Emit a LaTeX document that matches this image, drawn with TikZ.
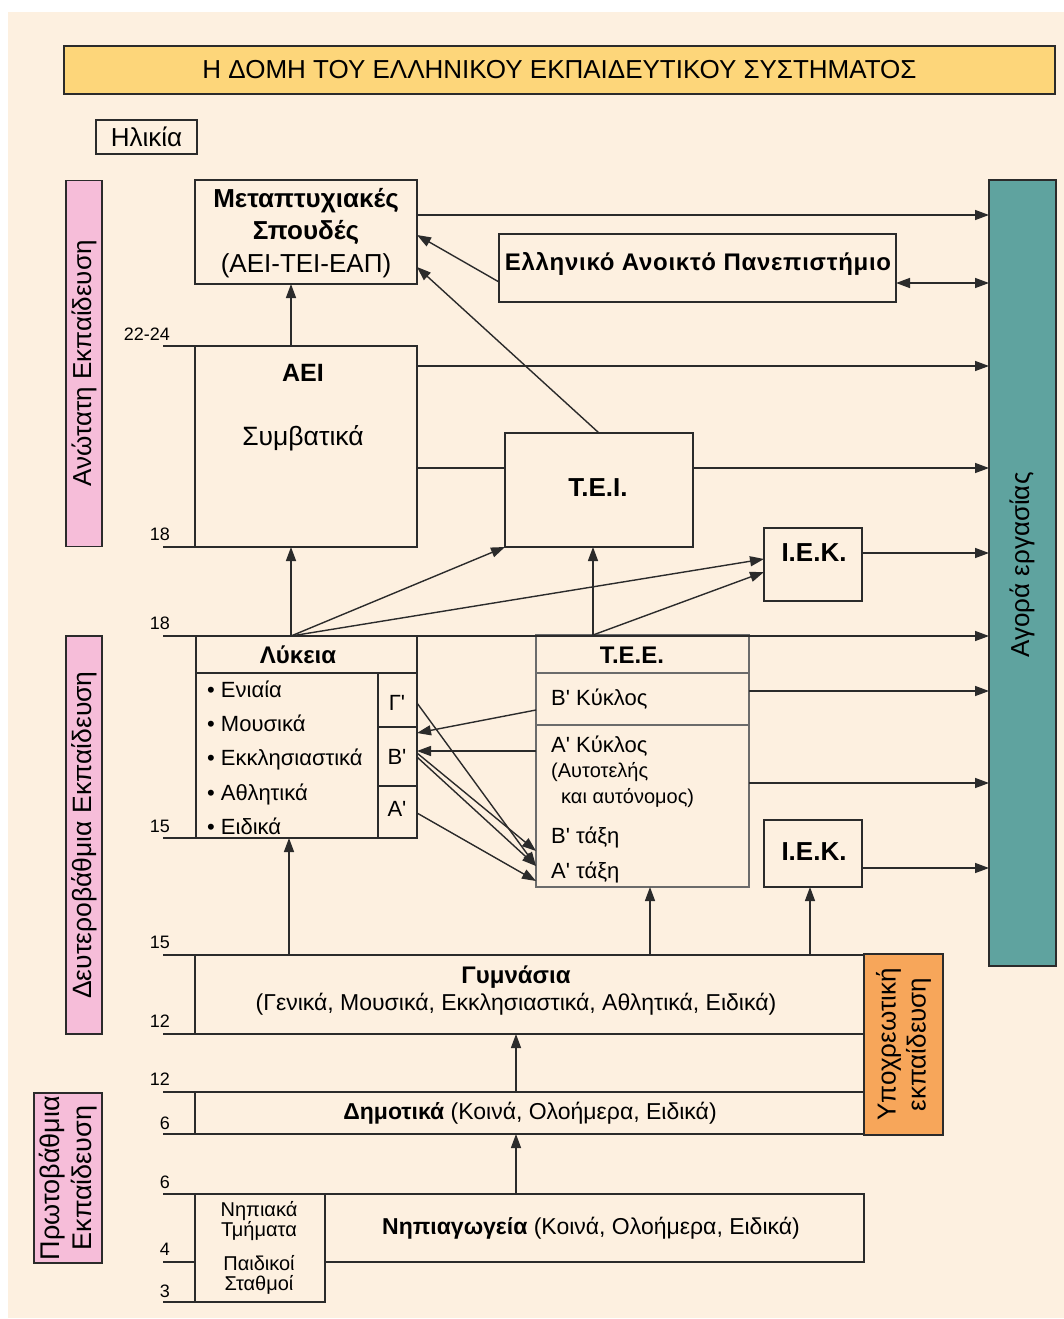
\documentclass[tikz,border=0pt]{standalone}
\usepackage{fontspec}
\setmainfont{Liberation Sans}
\usetikzlibrary{arrows.meta}
\definecolor{bgc}{HTML}{FDF0E0}
\definecolor{titlefill}{HTML}{FDD67A}
\definecolor{pinkfill}{HTML}{F6BDD9}
\definecolor{tealfill}{HTML}{5FA39F}
\definecolor{orangefill}{HTML}{F7A65A}
\definecolor{lnc}{HTML}{2B2B2B}
\newcommand\fsz[1]{\fontsize{#1}{#1}\selectfont}
\newcommand\prm{\textquotesingle}
\begin{document}
\begin{tikzpicture}[x=1pt,y=-1pt,
  box/.style={draw=lnc, line width=1.5pt, inner sep=0pt, outer sep=0pt},
  conn/.style={draw=lnc, line width=1.4pt},
  arr/.style={conn, -{Triangle[length=14pt,width=10pt]}},
  darr/.style={conn, {Triangle[length=14pt,width=10pt]}-{Triangle[length=14pt,width=10pt]}},
  agelbl/.style={font=\fsz{18}, anchor=base east, inner sep=0pt},
  txt/.style={inner sep=0pt, font=\fsz{24}},
  btxt/.style={inner sep=0pt, font=\fsz{26}\bfseries},
  ltxt/.style={inner sep=0pt, anchor=base west, font=\fsz{22}},
  rot/.style={rotate=90, inner sep=0pt, align=center, font=\fsz{26}}
]
\useasboundingbox (0,0) rectangle (1064,1319);
\fill[white] (0,0) rectangle (1064,1319);
\fill[bgc] (8,12) rectangle (1064,1318);

% title and side bands
\node[box, fill=titlefill, minimum width=991pt, minimum height=48pt, font=\fsz{26}] (title) at (559.5,70) {Η ΔΟΜΗ ΤΟΥ ΕΛΛΗΝΙΚΟΥ ΕΚΠΑΙΔΕΥΤΙΚΟΥ ΣΥΣΤΗΜΑΤΟΣ};
\node[box, minimum width=101pt, minimum height=34pt, font=\fsz{26}] (ilikia) at (146.5,137) {Ηλικία};
\node[box, fill=pinkfill, minimum width=36pt, minimum height=366pt] (pinkA) at (84,363.5) {};
\node[rot] (pinkAt) at (pinkA.center) {Ανώτατη Εκπαίδευση};
\node[box, fill=pinkfill, minimum width=36pt, minimum height=398pt] (pinkB) at (84,835) {};
\node[rot, font=\fsz{26.5}] (pinkBt) at (pinkB.center) {Δευτεροβάθμια Εκπαίδευση};
\node[box, fill=pinkfill, minimum width=68pt, minimum height=170pt] (pinkC) at (68,1178) {};
\node[rot, font=\fontsize{27}{32}\selectfont] (pinkCt) at (pinkC.center) {Πρωτοβάθμια\\Εκπαίδευση};
\node[box, fill=tealfill, minimum width=67pt, minimum height=786pt] (agora) at (1022.5,573) {};
\node[rot] (agorat) at (1022,565) {Αγορά εργασίας};
\node[box, fill=orangefill, minimum width=79pt, minimum height=181pt] (orange) at (903.5,1044.5) {};
\node[rot, font=\fontsize{26}{30}\selectfont] (oranget) at (orange.center) {Υποχρεωτική\\εκπαίδευση};

% main boxes
\node[box, minimum width=222pt, minimum height=104pt] (meta) at (306,232) {};
\node[inner sep=0pt, align=center, font=\fontsize{26}{32.5}\selectfont] (metat) at (306,233) {\textbf{Μεταπτυχιακές}\\\textbf{Σπουδές}\\(ΑΕΙ-ΤΕΙ-ΕΑΠ)};
\node[box, minimum width=222pt, minimum height=201pt] (aei) at (306,446.5) {};
\node[btxt, font=\fsz{25}\bfseries] (aeit) at (303,373) {ΑΕΙ};
\node[txt, font=\fsz{26.5}] (aeisub) at (303,438) {Συμβατικά};
\node[box, minimum width=397pt, minimum height=68pt] (eap) at (697.5,268) {};
\node[btxt, font=\fsz{24}\bfseries\addfontfeature{LetterSpace=3}] (eapt) at (698,264) {Ελληνικό Ανοικτό Πανεπιστήμιο};
\node[box, minimum width=188pt, minimum height=114pt] (tei) at (599,490) {};
\node[btxt] (teit) at (598,488) {Τ.Ε.Ι.};
\node[box, minimum width=98pt, minimum height=73pt] (iekA) at (813,564.5) {};
\node[btxt] (iekAt) at (814,553) {Ι.Ε.Κ.};

% Lykeia
\node[box, minimum width=221pt, minimum height=202pt] (lyk) at (306.5,737) {};
\node[btxt, font=\fsz{24}\bfseries] (lykt) at (298,655) {Λύκεια};
\draw[conn] (196,673) -- (417,673);
\draw[conn] (378,673) -- (378,838);
\draw[conn] (378,727) -- (417,727);
\draw[conn] (378,786) -- (417,786);
\node[ltxt] (l1) at (207,697) {• Ενιαία};
\node[ltxt] (l2) at (207,731) {• Μουσικά};
\node[ltxt] (l3) at (207,765) {• Εκκλησιαστικά};
\node[ltxt] (l4) at (207,800) {• Αθλητικά};
\node[ltxt] (l5) at (207,834) {• Ειδικά};
\node[txt, font=\fsz{22}] (gG) at (397,703) {Γ\prm};
\node[txt, font=\fsz{22}] (gB) at (397,757) {Β\prm};
\node[txt, font=\fsz{22}] (gA) at (397,809) {Α\prm};

% TEE
\node[box, draw=lnc!70, minimum width=213pt, minimum height=252pt] (tee) at (642.5,761) {};
\draw[conn, draw=lnc!70] (536,673) -- (749,673);
\draw[conn, draw=lnc!70] (536,725) -- (749,725);
\node[btxt, font=\fsz{24}\bfseries] (teet) at (632,655) {Τ.Ε.Ε.};
\node[ltxt] (t1) at (551,705) {Β\prm\ Κύκλος};
\node[ltxt] (t2) at (551,752) {Α\prm\ Κύκλος};
\node[ltxt, font=\fsz{20}] (t3) at (551,777) {(Αυτοτελής};
\node[ltxt, font=\fsz{20}] (t4) at (561,803) {και αυτόνομος)};
\node[ltxt] (t5) at (551,843) {Β\prm\ τάξη};
\node[ltxt] (t6) at (551,878) {Α\prm\ τάξη};
\node[box, minimum width=98pt, minimum height=67pt] (iekB) at (813,853.5) {};
\node[btxt] (iekBt) at (814,852) {Ι.Ε.Κ.};

% lower boxes
\node[box, minimum width=669pt, minimum height=79pt] (gym) at (529.5,994.5) {};
\node[btxt, font=\fsz{24}\bfseries] (gymt) at (516,977) {Γυμνάσια};
\node[txt, font=\fsz{23}] (gyms) at (516,1004) {(Γενικά, Μουσικά, Εκκλησιαστικά, Αθλητικά, Ειδικά)};
\node[box, minimum width=669pt, minimum height=42pt] (dim) at (529.5,1113) {};
\node[txt, font=\fsz{23}] (dimt) at (530,1113) {\textbf{Δημοτικά} (Κοινά, Ολοήμερα, Ειδικά)};
\node[box, minimum width=669pt, minimum height=68pt] (nip) at (529.5,1228) {};
\node[txt, font=\fsz{23}] (nipt) at (591,1228) {\textbf{Νηπιαγωγεία} (Κοινά, Ολοήμερα, Ειδικά)};
\node[box, fill=bgc, minimum width=130pt, minimum height=108pt] (nipin) at (260,1248) {};
\node[txt, align=center, font=\fsz{20}] (nipa) at (259,1221) {Νηπιακά\\Τμήματα};
\node[txt, align=center, font=\fsz{20}] (nipb) at (259,1275) {Παιδικοί\\Σταθμοί};

% age lines and labels
\coordinate (a1) at (163,346); \coordinate (a2) at (163,547); \coordinate (a3) at (163,636);
\coordinate (a4) at (163,838); \coordinate (a5) at (163,955); \coordinate (a6) at (163,1034);
\coordinate (a7) at (163,1092); \coordinate (a8) at (163,1134); \coordinate (a9) at (163,1194);
\coordinate (a10) at (163,1262); \coordinate (a11) at (163,1302);
\draw[conn] (a1) -- (aei.north west);
\draw[conn] (a2) -- (aei.south west);
\draw[arr] (a3) -- (agora.west |- a3);
\draw[conn] (a4) -- (lyk.south west);
\draw[conn] (a5) -- (gym.north west);
\draw[conn] (a6) -- (gym.south west);
\draw[conn] (a7) -- (dim.north west);
\draw[conn] (a8) -- (dim.south west);
\draw[conn] (a9) -- (nip.north west);
\draw[conn] (a10) -- (nipin.west |- a10);
\draw[conn] (a11) -- (nipin.south west);
\node[agelbl] (g1) at (170,340) {22-24};
\node[agelbl] (g2) at (170,540) {18};
\node[agelbl] (g3) at (170,629) {18};
\node[agelbl] (g4) at (170,832) {15};
\node[agelbl] (g5) at (170,948) {15};
\node[agelbl] (g6) at (170,1027) {12};
\node[agelbl] (g7) at (170,1085) {12};
\node[agelbl] (g8) at (170,1129) {6};
\node[agelbl] (g9) at (170,1188) {6};
\node[agelbl] (g10) at (170,1255) {4};
\node[agelbl] (g11) at (170,1297) {3};

% connectors upper part
\draw[arr] (291,0 |- aei.north) -- (291,0 |- meta.south);
\draw[arr] (meta.east |- 0,215) -- (agora.west |- 0,215);
\draw[arr] (eap.west |- 0,282) -- (meta.east |- 0,235);
\draw[arr] (599,0 |- tei.north) -- (meta.east |- 0,267);
\draw[darr] (eap.east |- 0,283) -- (agora.west |- 0,283);
\draw[arr] (aei.east |- 0,366) -- (agora.west |- 0,366);
\draw[conn] (aei.east |- 0,468) -- (tei.west |- 0,468);
\draw[arr] (tei.east |- 0,468) -- (agora.west |- 0,468);
\draw[arr] (iekA.east |- 0,553) -- (agora.west |- 0,553);

% from Lykeia and TEE upward
\draw[arr] (291,0 |- lyk.north) -- (291,0 |- aei.south);
\draw[arr] (291,0 |- lyk.north) -- (tei.south west);
\draw[arr] (291,0 |- lyk.north) -- (iekA.west |- 0,559);
\draw[arr] (593,0 |- tee.north) -- (593,0 |- tei.south);
\draw[arr] (593,0 |- tee.north) -- (iekA.west |- 0,572);

% TEE to labour market
\draw[arr] (tee.east |- 0,691) -- (agora.west |- 0,691);
\draw[arr] (tee.east |- 0,783) -- (agora.west |- 0,783);
\draw[arr] (iekB.east |- 0,868) -- (agora.west |- 0,868);

% between Lykeia and TEE
\draw[arr] (tee.west |- 0,710) -- (lyk.east |- 0,733);
\draw[arr] (tee.west |- 0,751) -- (lyk.east |- 0,751);
\draw[arr] (lyk.east |- 0,703) -- (tee.west |- 0,866);
\draw[arr] (lyk.east |- 0,753) -- (tee.west |- 0,851);
\draw[arr] (lyk.east |- 0,757) -- (tee.west |- 0,866);
\draw[arr] (lyk.east |- 0,813) -- (tee.west |- 0,881);

% lower upward arrows
\draw[arr] (289,0 |- gym.north) -- (289,0 |- lyk.south);
\draw[arr] (650,0 |- gym.north) -- (650,0 |- tee.south);
\draw[arr] (810,0 |- gym.north) -- (810,0 |- iekB.south);
\draw[arr] (516,0 |- dim.north) -- (516,0 |- gym.south);
\draw[arr] (516,0 |- nip.north) -- (516,0 |- dim.south);
\end{tikzpicture}
\end{document}
